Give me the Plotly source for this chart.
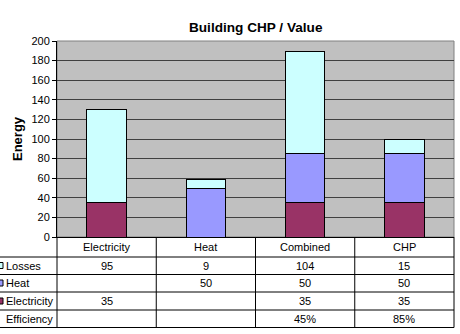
import plotly.graph_objects as go

categories = ["Electricity", "Heat", "Combined", "CHP"]
electricity = [35, None, 35, 35]
heat = [None, 50, 50, 50]
losses = [95, 9, 104, 15]
efficiency = ["", "", "45%", "85%"]
y_ticks = list(range(0, 201, 20))

colors = {"Electricity": "#993366", "Heat": "#9999FF", "Losses": "#CCFFFF"}

W, H = 460, 334
L, R, T, B = 57, 454, 41, 237

def px(x):
    return (x - L) / (R - L)

def py(y):
    return (B - y) / (B - T)

fig = go.Figure()
for name, vals in [("Electricity", electricity), ("Heat", heat), ("Losses", losses)]:
    fig.add_trace(go.Bar(
        x=categories, y=[v if v is not None else 0 for v in vals], name=name,
        marker=dict(color=colors[name], line=dict(color="black", width=1)),
        width=0.4, showlegend=False, hoverinfo="x+y+name",
    ))

shapes = []
annotations = []
line_col = "#000000"
for yy, x0 in [(257, 0), (274.5, 0), (292, 0), (310, 0), (327.5, 0)]:
    shapes.append(dict(type="line", xref="paper", yref="paper",
                       x0=px(x0), x1=px(R), y0=py(yy), y1=py(yy),
                       line=dict(color=line_col, width=1)))
ncat = len(categories)
cw = (R - L) / ncat
for i in range(ncat + 1):
    xx = L + i * cw
    shapes.append(dict(type="line", xref="paper", yref="paper",
                       x0=px(xx), x1=px(xx), y0=py(B), y1=py(327.5),
                       line=dict(color=line_col, width=1)))

FAM = "Arial, Liberation Sans, sans-serif"
font = dict(family=FAM, size=11, color="black")
row_y = [247, 265.5, 283, 301, 318.5]

def ann(x, y, text, f=font, xa="center", **kw):
    annotations.append(dict(x=px(x), y=py(y), xref="paper", yref="paper", text=text,
                            showarrow=False, font=f, xanchor=xa, yanchor="middle", **kw))

for i, c in enumerate(categories):
    cx = L + (i + 0.5) * cw
    ann(cx, row_y[0], c)
    for r, vals in enumerate([losses, heat, electricity]):
        v = vals[i]
        if v is not None:
            ann(cx, row_y[r + 1], str(v))
    ann(cx, row_y[4], efficiency[i])

row_names = ["Losses", "Heat", "Electricity", "Efficiency"]
for r, nm in enumerate(row_names):
    ann(4, row_y[r + 1], nm, xa="left")
    if nm in colors:
        shapes.append(dict(type="rect", xref="paper", yref="paper",
                           x0=px(-3), x1=px(3), y0=py(row_y[r + 1] + 3), y1=py(row_y[r + 1] - 3),
                           fillcolor=colors[nm], line=dict(color="black", width=1)))

ann(256, 28, "<b>Building CHP / Value</b>", f=dict(family=FAM, size=13.6, color="black"))
ann(17, 139, "<b>Energy</b>", f=dict(family=FAM, size=13, color="black"), textangle=-90)

fig.update_layout(
    width=W, height=H,
    margin=dict(l=L, r=W - R, t=T, b=H - B, pad=0),
    barmode="stack",
    plot_bgcolor="#C0C0C0", paper_bgcolor="white",
    shapes=shapes, annotations=annotations,
    xaxis=dict(showticklabels=False, showgrid=False, ticks="", showline=True,
               linecolor="black", linewidth=1, range=[-0.5, 3.5], fixedrange=True),
    yaxis=dict(range=[0, 200], tickvals=y_ticks, showgrid=True, gridcolor="#404040",
               gridwidth=1, ticks="outside", ticklen=4, tickcolor="black",
               showline=True, linecolor="black", linewidth=1, mirror=False,
               tickfont=font, zeroline=False),
)
fig.add_shape(type="rect", xref="paper", yref="paper", x0=0, x1=1, y0=0, y1=1,
              line=dict(color="#808080", width=1), layer="below")
fig.write_html("out.html")
